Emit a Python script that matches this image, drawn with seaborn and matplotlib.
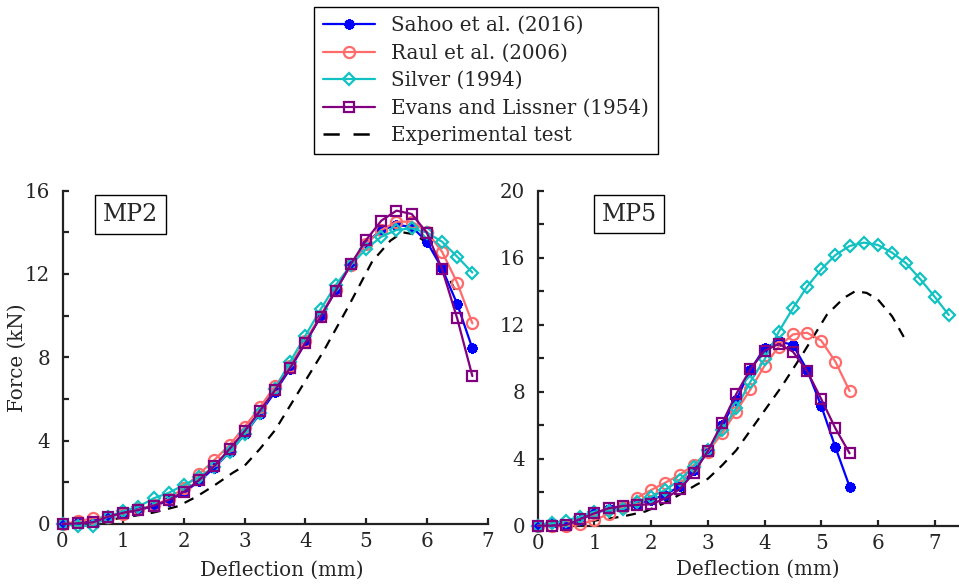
import matplotlib
matplotlib.use("Agg")
import matplotlib.pyplot as plt
from matplotlib.lines import Line2D
from matplotlib.ticker import MultipleLocator
import seaborn as sns

# ---------------------------------------------------------------- data
# Deflection steps (mm) of the model predictions
DEFL_MP2 = [0.0, 0.25, 0.5, 0.75, 1.0, 1.25, 1.5, 1.75, 2.0, 2.25, 2.5, 2.75,
            3.0, 3.25, 3.5, 3.75, 4.0, 4.25, 4.5, 4.75, 5.0, 5.25, 5.5, 5.75,
            6.0, 6.25, 6.5, 6.75]
DEFL_MP5 = [0.0, 0.25, 0.5, 0.75, 1.0, 1.25, 1.5, 1.75, 2.0, 2.25, 2.5, 2.75,
            3.0, 3.25, 3.5, 3.75, 4.0, 4.25, 4.5, 4.75, 5.0, 5.25, 5.5]
DEFL_MP5_SILVER = [0.0, 0.25, 0.5, 0.75, 1.0, 1.25, 1.5, 1.75, 2.0, 2.25, 2.5,
                   2.75, 3.0, 3.25, 3.5, 3.75, 4.0, 4.25, 4.5, 4.75, 5.0, 5.25,
                   5.5, 5.75, 6.0, 6.25, 6.5, 6.75, 7.0, 7.25]

# Force (kN), MP2
MP2_SAHOO = [0.0, 0.03, 0.08, 0.33, 0.52, 0.66, 0.86, 1.12, 1.52, 2.05, 2.7,
             3.45, 4.3, 5.3, 6.35, 7.45, 8.7, 9.95, 11.2, 12.45, 13.5, 14.11,
             14.35, 14.27, 13.55, 12.27, 10.56, 8.43]
MP2_RAUL = [0.0, 0.12, 0.27, 0.35, 0.5, 0.7, 0.9, 1.2, 1.75, 2.4, 3.07, 3.79,
            4.67, 5.6, 6.62, 7.6, 8.8, 10.0, 11.25, 12.45, 13.45, 14.11, 14.51,
            14.51, 14.03, 13.07, 11.58, 9.63]
MP2_SILVER = [0.0, -0.08, -0.1, 0.35, 0.62, 0.83, 1.23, 1.5, 1.87, 2.25, 2.75,
              3.45, 4.3, 5.35, 6.5, 7.79, 9.04, 10.3, 11.47, 12.43, 13.2, 13.79,
              14.11, 14.19, 13.99, 13.55, 12.83, 12.07]
MP2_EVANS = [0.0, 0.03, 0.08, 0.35, 0.54, 0.67, 0.88, 1.15, 1.55, 2.11, 2.78,
             3.6, 4.46, 5.42, 6.43, 7.5, 8.7, 9.95, 11.2, 12.48, 13.63, 14.56,
             15.04, 14.88, 13.98, 12.24, 9.87, 7.1]

# Force (kN), MP5
MP5_SAHOO = [0.0, 0.15, 0.05, 0.35, 0.75, 1.0, 1.15, 1.3, 1.55, 1.85, 2.35,
             3.3, 4.4, 6.0, 7.5, 9.3, 10.6, 11.0, 10.8, 9.3, 7.15, 4.68, 2.33]
MP5_RAUL = [0.0, 0.0, -0.03, 0.1, 0.34, 0.7, 1.1, 1.67, 2.13, 2.57, 3.03, 3.62,
            4.42, 5.51, 6.81, 8.14, 9.55, 10.69, 11.42, 11.52, 11.05, 9.79, 8.04]
MP5_SILVER = [0.0, 0.14, 0.3, 0.54, 0.84, 0.9, 0.98, 1.43, 1.73, 2.13, 2.73,
              3.52, 4.52, 5.71, 7.01, 8.6, 9.93, 11.58, 12.98, 14.27, 15.31,
              16.16, 16.7, 16.9, 16.76, 16.3, 15.66, 14.71, 13.67, 12.58]
MP5_EVANS = [0.0, 0.0, 0.04, 0.4, 0.74, 1.04, 1.18, 1.24, 1.28, 1.63, 2.17,
             3.13, 4.46, 6.11, 7.86, 9.34, 10.45, 10.85, 10.39, 9.24, 7.56,
             5.81, 4.32]

# Experimental test curve
EXP_DEFL = [0.0, 0.5, 1.0, 1.5, 1.9, 2.2, 2.5, 2.8, 3.0, 3.25, 3.5, 3.9, 4.3,
            4.7, 5.1, 5.4, 5.6, 5.8, 6.0, 6.25, 6.5]
EXP_FORCE = [0.0, 0.1, 0.3, 0.55, 0.85, 1.3, 1.85, 2.45, 2.8, 3.6, 4.5, 6.4,
             8.3, 10.4, 12.6, 13.6, 14.0, 13.9, 13.5, 12.5, 11.0]

MODELS = ["Sahoo et al. (2016)", "Raul et al. (2006)", "Silver (1994)",
          "Evans and Lissner (1954)"]
EXP_LABEL = "Experimental test"

# ---------------------------------------------------------------- style
sns.set_style("ticks")
plt.rcParams["font.family"] = ["DejaVu Serif"]
FS = 14.3

STYLE = {
    MODELS[0]: dict(color="#0000FF", marker=(8, 2, 0), ms=7.5, mew=2.2, mfc="#0000FF"),
    MODELS[1]: dict(color="#FF6B6B", marker="o", ms=8, mew=1.6, mfc="none"),
    MODELS[2]: dict(color="#12C2C2", marker="D", ms=6.5, mew=1.6, mfc="none"),
    MODELS[3]: dict(color="#800080", marker="s", ms=6.5, mew=1.6, mfc="none"),
}


def draw_model(ax, x, y, name):
    st = STYLE[name]
    sns.lineplot(x=x, y=y, ax=ax, estimator=None, sort=False, legend=False,
                 label=name, color=st["color"], linewidth=1.6,
                 marker=st["marker"], markersize=st["ms"],
                 markeredgecolor=st["color"], markeredgewidth=st["mew"],
                 markerfacecolor=st["mfc"], clip_on=False, zorder=3)


def draw_experiment(ax):
    sns.lineplot(x=EXP_DEFL, y=EXP_FORCE, ax=ax, estimator=None, sort=False,
                 legend=False, label=EXP_LABEL, color="black", linewidth=1.6,
                 linestyle=(0, (4.5, 3.5)), zorder=2)


def style_axes(ax, ymax, xmax):
    ax.set_xlim(0, xmax)
    ax.set_ylim(0, ymax)
    ax.xaxis.set_major_locator(MultipleLocator(1))
    ax.yaxis.set_major_locator(MultipleLocator(4))
    ax.yaxis.set_minor_locator(MultipleLocator(2))
    for side in ("top", "right"):
        ax.spines[side].set_visible(False)
    for side in ("left", "bottom"):
        ax.spines[side].set_linewidth(1.6)
        ax.spines[side].set_color("#222222")
    ax.tick_params(which="both", direction="in", length=4.5, width=1.6,
                   color="#222222", labelsize=FS)
    ax.tick_params(axis="x", pad=6)
    ax.tick_params(axis="y", pad=9)
    ax.set_xlabel("Deflection (mm)", fontsize=FS)


fig = plt.figure(figsize=(9.59, 5.85), dpi=100)
ax1 = fig.add_axes([0.0652, 0.1043, 0.4432, 0.5698])
ax2 = fig.add_axes([0.5608, 0.1014, 0.4392, 0.5726])

# MP2 panel
draw_experiment(ax1)
for name, force in zip(MODELS, [MP2_SAHOO, MP2_RAUL, MP2_SILVER, MP2_EVANS]):
    draw_model(ax1, DEFL_MP2, force, name)
style_axes(ax1, 16, 7)
ax1.set_ylabel("Force (kN)", fontsize=FS)
ax1.yaxis.set_label_coords(-0.083, 0.5)
ax1.xaxis.set_label_coords(0.516, -0.11)
ax1.text(0.16, 0.929, "MP2", transform=ax1.transAxes, ha="center",
         va="center", fontsize=17,
         bbox=dict(boxstyle="square,pad=0.33", fc="white", ec="black", lw=1.0))

# MP5 panel
draw_experiment(ax2)
draw_model(ax2, DEFL_MP5, MP5_SAHOO, MODELS[0])
draw_model(ax2, DEFL_MP5, MP5_RAUL, MODELS[1])
draw_model(ax2, DEFL_MP5_SILVER, MP5_SILVER, MODELS[2])
draw_model(ax2, DEFL_MP5, MP5_EVANS, MODELS[3])
style_axes(ax2, 20, 7.43)
ax2.set_ylabel("")
ax2.xaxis.set_label_coords(0.522, -0.102)
ax2.text(0.2165, 0.93, "MP5", transform=ax2.transAxes, ha="center",
         va="center", fontsize=17,
         bbox=dict(boxstyle="square,pad=0.33", fc="white", ec="black", lw=1.0))

# Shared legend above the panels
handles, labels = ax1.get_legend_handles_labels()
order = [labels.index(n) for n in MODELS]
leg_handles = [handles[i] for i in order]
leg_handles.append(Line2D([], [], color="black", linewidth=1.8,
                          linestyle=(0, (6.5, 5.5))))
leg = fig.legend(leg_handles, MODELS + [EXP_LABEL],
                 loc="upper center", bbox_to_anchor=(486 / 959, 1 - 7 / 585),
                 fontsize=FS, frameon=True, fancybox=False,
                 edgecolor="black", framealpha=1, handlelength=2.6,
                 handletextpad=0.8, borderpad=0.45, labelspacing=0.43,
                 borderaxespad=0)
leg.get_frame().set_linewidth(1.0)

fig.savefig("out.png", dpi=100)
